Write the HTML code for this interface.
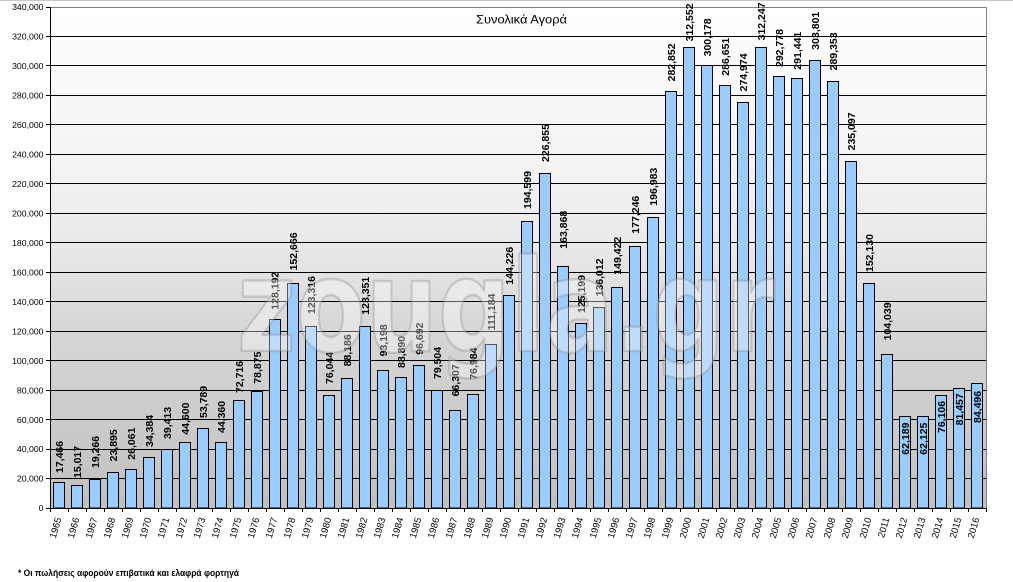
<!DOCTYPE html>
<html><head><meta charset="utf-8"><style>
html,body{margin:0;padding:0;background:#fff;}
svg{display:block;}
text{font-family:"Liberation Sans","DejaVu Sans",sans-serif;}
</style></head><body>
<svg width="1013" height="582" viewBox="0 0 1013 582" xmlns="http://www.w3.org/2000/svg">
<defs>
<linearGradient id="bg" x1="0" y1="7" x2="0" y2="508" gradientUnits="userSpaceOnUse">
<stop offset="0" stop-color="#ffffff"/>
<stop offset="0.3" stop-color="#f4f4f4"/>
<stop offset="0.45" stop-color="#ebebeb"/>
<stop offset="0.65" stop-color="#d6d6d6"/>
<stop offset="1" stop-color="#c0c0c0"/>
</linearGradient>
</defs>
<rect x="0" y="0" width="1013" height="582" fill="#fff"/>
<line x1="0" y1="0.5" x2="1013" y2="0.5" stroke="#c8c8c8" stroke-width="1"/>
<rect x="50" y="7" width="936" height="501" fill="url(#bg)"/>
<!-- gridlines -->
<g stroke="#000" stroke-width="1">
<line x1="50" x2="986" y1="478.5" y2="478.5"/>
<line x1="50" x2="986" y1="449.5" y2="449.5"/>
<line x1="50" x2="986" y1="419.5" y2="419.5"/>
<line x1="50" x2="986" y1="390.5" y2="390.5"/>
<line x1="50" x2="986" y1="360.5" y2="360.5"/>
<line x1="50" x2="986" y1="331.5" y2="331.5"/>
<line x1="50" x2="986" y1="301.5" y2="301.5"/>
<line x1="50" x2="986" y1="272.5" y2="272.5"/>
<line x1="50" x2="986" y1="242.5" y2="242.5"/>
<line x1="50" x2="986" y1="213.5" y2="213.5"/>
<line x1="50" x2="986" y1="183.5" y2="183.5"/>
<line x1="50" x2="986" y1="154.5" y2="154.5"/>
<line x1="50" x2="986" y1="124.5" y2="124.5"/>
<line x1="50" x2="986" y1="95.5" y2="95.5"/>
<line x1="50" x2="986" y1="65.5" y2="65.5"/>
<line x1="50" x2="986" y1="36.5" y2="36.5"/>
</g>
<g stroke="#808080" stroke-width="1">
<line x1="50" x2="987" y1="7.5" y2="7.5"/>
<line x1="986.5" x2="986.5" y1="7" y2="509"/>
</g>
<!-- bars -->
<g fill="#99ccff" stroke="#000" stroke-width="1">
<rect x="53.5" y="482.5" width="11" height="25.5"/>
<rect x="71.5" y="485.5" width="11" height="22.5"/>
<rect x="89.5" y="479.5" width="11" height="28.5"/>
<rect x="107.5" y="472.5" width="11" height="35.5"/>
<rect x="125.5" y="469.5" width="11" height="38.5"/>
<rect x="143.5" y="457.5" width="11" height="50.5"/>
<rect x="161.5" y="449.5" width="11" height="58.5"/>
<rect x="179.5" y="442.5" width="11" height="65.5"/>
<rect x="197.5" y="428.5" width="11" height="79.5"/>
<rect x="215.5" y="442.5" width="11" height="65.5"/>
<rect x="233.5" y="400.5" width="11" height="107.5"/>
<rect x="251.5" y="391.5" width="11" height="116.5"/>
<rect x="269.5" y="319.5" width="11" height="188.5"/>
<rect x="287.5" y="283.5" width="11" height="224.5"/>
<rect x="305.5" y="326.5" width="11" height="181.5"/>
<rect x="323.5" y="395.5" width="11" height="112.5"/>
<rect x="341.5" y="378.5" width="11" height="129.5"/>
<rect x="359.5" y="326.5" width="11" height="181.5"/>
<rect x="377.5" y="370.5" width="11" height="137.5"/>
<rect x="395.5" y="377.5" width="11" height="130.5"/>
<rect x="413.5" y="365.5" width="11" height="142.5"/>
<rect x="431.5" y="390.5" width="11" height="117.5"/>
<rect x="449.5" y="410.5" width="11" height="97.5"/>
<rect x="467.5" y="394.5" width="11" height="113.5"/>
<rect x="485.5" y="344.5" width="11" height="163.5"/>
<rect x="503.5" y="295.5" width="11" height="212.5"/>
<rect x="521.5" y="221.5" width="11" height="286.5"/>
<rect x="539.5" y="173.5" width="11" height="334.5"/>
<rect x="557.5" y="266.5" width="11" height="241.5"/>
<rect x="575.5" y="323.5" width="11" height="184.5"/>
<rect x="593.5" y="307.5" width="11" height="200.5"/>
<rect x="611.5" y="287.5" width="11" height="220.5"/>
<rect x="629.5" y="246.5" width="11" height="261.5"/>
<rect x="647.5" y="217.5" width="11" height="290.5"/>
<rect x="665.5" y="91.5" width="11" height="416.5"/>
<rect x="683.5" y="47.5" width="11" height="460.5"/>
<rect x="701.5" y="65.5" width="11" height="442.5"/>
<rect x="719.5" y="85.5" width="11" height="422.5"/>
<rect x="737.5" y="102.5" width="11" height="405.5"/>
<rect x="755.5" y="47.5" width="11" height="460.5"/>
<rect x="773.5" y="76.5" width="11" height="431.5"/>
<rect x="791.5" y="78.5" width="11" height="429.5"/>
<rect x="809.5" y="60.5" width="11" height="447.5"/>
<rect x="827.5" y="81.5" width="11" height="426.5"/>
<rect x="845.5" y="161.5" width="11" height="346.5"/>
<rect x="863.5" y="283.5" width="11" height="224.5"/>
<rect x="881.5" y="354.5" width="11" height="153.5"/>
<rect x="899.5" y="416.5" width="11" height="91.5"/>
<rect x="917.5" y="416.5" width="11" height="91.5"/>
<rect x="935.5" y="395.5" width="11" height="112.5"/>
<rect x="953.5" y="388.5" width="11" height="119.5"/>
<rect x="971.5" y="383.5" width="11" height="124.5"/>
</g>
<!-- axes -->
<g stroke="#000" stroke-width="1">
<line x1="50.5" x2="50.5" y1="7" y2="509"/>
<line x1="50" x2="987" y1="508.5" y2="508.5"/>
<line x1="46" x2="50" y1="508.5" y2="508.5"/>
<line x1="46" x2="50" y1="478.5" y2="478.5"/>
<line x1="46" x2="50" y1="449.5" y2="449.5"/>
<line x1="46" x2="50" y1="419.5" y2="419.5"/>
<line x1="46" x2="50" y1="390.5" y2="390.5"/>
<line x1="46" x2="50" y1="360.5" y2="360.5"/>
<line x1="46" x2="50" y1="331.5" y2="331.5"/>
<line x1="46" x2="50" y1="301.5" y2="301.5"/>
<line x1="46" x2="50" y1="272.5" y2="272.5"/>
<line x1="46" x2="50" y1="242.5" y2="242.5"/>
<line x1="46" x2="50" y1="213.5" y2="213.5"/>
<line x1="46" x2="50" y1="183.5" y2="183.5"/>
<line x1="46" x2="50" y1="154.5" y2="154.5"/>
<line x1="46" x2="50" y1="124.5" y2="124.5"/>
<line x1="46" x2="50" y1="95.5" y2="95.5"/>
<line x1="46" x2="50" y1="65.5" y2="65.5"/>
<line x1="46" x2="50" y1="36.5" y2="36.5"/>
<line x1="46" x2="50" y1="7.5" y2="7.5"/>
</g>
<g stroke="#000" stroke-width="1">
<line x1="50.5" x2="50.5" y1="508" y2="512"/><line x1="68.5" x2="68.5" y1="508" y2="512"/><line x1="86.5" x2="86.5" y1="508" y2="512"/><line x1="104.5" x2="104.5" y1="508" y2="512"/><line x1="122.5" x2="122.5" y1="508" y2="512"/><line x1="140.5" x2="140.5" y1="508" y2="512"/><line x1="158.5" x2="158.5" y1="508" y2="512"/><line x1="176.5" x2="176.5" y1="508" y2="512"/><line x1="194.5" x2="194.5" y1="508" y2="512"/><line x1="212.5" x2="212.5" y1="508" y2="512"/><line x1="230.5" x2="230.5" y1="508" y2="512"/><line x1="248.5" x2="248.5" y1="508" y2="512"/><line x1="266.5" x2="266.5" y1="508" y2="512"/><line x1="284.5" x2="284.5" y1="508" y2="512"/><line x1="302.5" x2="302.5" y1="508" y2="512"/><line x1="320.5" x2="320.5" y1="508" y2="512"/><line x1="338.5" x2="338.5" y1="508" y2="512"/><line x1="356.5" x2="356.5" y1="508" y2="512"/><line x1="374.5" x2="374.5" y1="508" y2="512"/><line x1="392.5" x2="392.5" y1="508" y2="512"/><line x1="410.5" x2="410.5" y1="508" y2="512"/><line x1="428.5" x2="428.5" y1="508" y2="512"/><line x1="446.5" x2="446.5" y1="508" y2="512"/><line x1="464.5" x2="464.5" y1="508" y2="512"/><line x1="482.5" x2="482.5" y1="508" y2="512"/><line x1="500.5" x2="500.5" y1="508" y2="512"/><line x1="518.5" x2="518.5" y1="508" y2="512"/><line x1="536.5" x2="536.5" y1="508" y2="512"/><line x1="554.5" x2="554.5" y1="508" y2="512"/><line x1="572.5" x2="572.5" y1="508" y2="512"/><line x1="590.5" x2="590.5" y1="508" y2="512"/><line x1="608.5" x2="608.5" y1="508" y2="512"/><line x1="626.5" x2="626.5" y1="508" y2="512"/><line x1="644.5" x2="644.5" y1="508" y2="512"/><line x1="662.5" x2="662.5" y1="508" y2="512"/><line x1="680.5" x2="680.5" y1="508" y2="512"/><line x1="698.5" x2="698.5" y1="508" y2="512"/><line x1="716.5" x2="716.5" y1="508" y2="512"/><line x1="734.5" x2="734.5" y1="508" y2="512"/><line x1="752.5" x2="752.5" y1="508" y2="512"/><line x1="770.5" x2="770.5" y1="508" y2="512"/><line x1="788.5" x2="788.5" y1="508" y2="512"/><line x1="806.5" x2="806.5" y1="508" y2="512"/><line x1="824.5" x2="824.5" y1="508" y2="512"/><line x1="842.5" x2="842.5" y1="508" y2="512"/><line x1="860.5" x2="860.5" y1="508" y2="512"/><line x1="878.5" x2="878.5" y1="508" y2="512"/><line x1="896.5" x2="896.5" y1="508" y2="512"/><line x1="914.5" x2="914.5" y1="508" y2="512"/><line x1="932.5" x2="932.5" y1="508" y2="512"/><line x1="950.5" x2="950.5" y1="508" y2="512"/><line x1="968.5" x2="968.5" y1="508" y2="512"/><line x1="986.5" x2="986.5" y1="508" y2="512"/>
</g>
<!-- y labels -->
<g font-size="8.7" text-anchor="end" fill="#000">
<text x="43.5" y="511.2">0</text>
<text x="43.5" y="481.7">20,000</text>
<text x="43.5" y="452.2">40,000</text>
<text x="43.5" y="422.8">60,000</text>
<text x="43.5" y="393.3">80,000</text>
<text x="43.5" y="363.8">100,000</text>
<text x="43.5" y="334.4">120,000</text>
<text x="43.5" y="304.9">140,000</text>
<text x="43.5" y="275.4">160,000</text>
<text x="43.5" y="246">180,000</text>
<text x="43.5" y="216.5">200,000</text>
<text x="43.5" y="187">220,000</text>
<text x="43.5" y="157.6">240,000</text>
<text x="43.5" y="128.1">260,000</text>
<text x="43.5" y="98.6">280,000</text>
<text x="43.5" y="69.2">300,000</text>
<text x="43.5" y="39.7">320,000</text>
<text x="43.5" y="10.2">340,000</text>
</g>
<!-- data labels -->
<g font-size="10.5" font-weight="bold" fill="#000">
<text transform="translate(62.8,473) rotate(-90)">17,466</text>
<text transform="translate(80.8,478) rotate(-90)">15,017</text>
<text transform="translate(98.8,468) rotate(-90)">19,266</text>
<text transform="translate(116.8,461.4) rotate(-90)">23,895</text>
<text transform="translate(134.8,459.7) rotate(-90)">26,061</text>
<text transform="translate(152.8,447) rotate(-90)">34,384</text>
<text transform="translate(170.8,439) rotate(-90)">39,413</text>
<text transform="translate(188.8,434.7) rotate(-90)">44,600</text>
<text transform="translate(206.8,418) rotate(-90)">53,789</text>
<text transform="translate(224.8,433) rotate(-90)">44,360</text>
<text transform="translate(242.8,393) rotate(-90)">72,716</text>
<text transform="translate(260.8,383.7) rotate(-90)">78,875</text>
<text transform="translate(278.3,309.7) rotate(-90)">128,192</text>
<text transform="translate(296.8,270.4) rotate(-90)">152,666</text>
<text transform="translate(314.8,314) rotate(-90)">123,316</text>
<text transform="translate(332.8,384) rotate(-90)">76,044</text>
<text transform="translate(350.8,366.4) rotate(-90)">88,186</text>
<text transform="translate(368.8,314.7) rotate(-90)">123,351</text>
<text transform="translate(386.8,356.4) rotate(-90)">93,198</text>
<text transform="translate(404.8,368) rotate(-90)">88,890</text>
<text transform="translate(422.8,354.7) rotate(-90)">96,692</text>
<text transform="translate(440.8,379) rotate(-90)">79,504</text>
<text transform="translate(458.8,396.4) rotate(-90)">66,307</text>
<text transform="translate(476.8,379.7) rotate(-90)">76,984</text>
<text transform="translate(494.8,330.4) rotate(-90)">111,184</text>
<text transform="translate(512.8,284.7) rotate(-90)">144,226</text>
<text transform="translate(530.8,209) rotate(-90)">194,599</text>
<text transform="translate(548.8,162) rotate(-90)">226,855</text>
<text transform="translate(566.8,248.7) rotate(-90)">163,868</text>
<text transform="translate(584.8,313) rotate(-90)">125,199</text>
<text transform="translate(602.8,296.4) rotate(-90)">136,012</text>
<text transform="translate(620.8,274.7) rotate(-90)">149,422</text>
<text transform="translate(638.8,233.7) rotate(-90)">177,246</text>
<text transform="translate(656.8,205.7) rotate(-90)">196,983</text>
<text transform="translate(674.8,81.4) rotate(-90)">282,852</text>
<text transform="translate(692.8,41.4) rotate(-90)">312,552</text>
<text transform="translate(710.8,56.4) rotate(-90)">300,178</text>
<text transform="translate(728.8,75.7) rotate(-90)">286,651</text>
<text transform="translate(746.8,91.4) rotate(-90)">274,974</text>
<text transform="translate(764.8,40.4) rotate(-90)">312,247</text>
<text transform="translate(782.8,67) rotate(-90)">292,778</text>
<text transform="translate(800.8,69.7) rotate(-90)">291,441</text>
<text transform="translate(818.8,49.7) rotate(-90)">303,801</text>
<text transform="translate(836.8,70.4) rotate(-90)">289,353</text>
<text transform="translate(854.8,150.4) rotate(-90)">235,097</text>
<text transform="translate(872.8,272) rotate(-90)">152,130</text>
<text transform="translate(890.8,340.4) rotate(-90)">104,039</text>
<text transform="translate(908.8,454.7) rotate(-90)">62,189</text>
<text transform="translate(926.8,454.7) rotate(-90)">62,125</text>
<text transform="translate(944.8,433) rotate(-90)">76,106</text>
<text transform="translate(962.8,425.4) rotate(-90)">81,457</text>
<text transform="translate(980.8,423) rotate(-90)">84,496</text>
</g>
<!-- x labels -->
<g font-size="9.5" text-anchor="end" fill="#000">
<text transform="translate(61.5,518.6) rotate(-74)">1965</text>
<text transform="translate(79.5,518.6) rotate(-74)">1966</text>
<text transform="translate(97.5,518.6) rotate(-74)">1967</text>
<text transform="translate(115.5,518.6) rotate(-74)">1968</text>
<text transform="translate(133.5,518.6) rotate(-74)">1969</text>
<text transform="translate(151.5,518.6) rotate(-74)">1970</text>
<text transform="translate(169.5,518.6) rotate(-74)">1971</text>
<text transform="translate(187.5,518.6) rotate(-74)">1972</text>
<text transform="translate(205.5,518.6) rotate(-74)">1973</text>
<text transform="translate(223.5,518.6) rotate(-74)">1974</text>
<text transform="translate(241.5,518.6) rotate(-74)">1975</text>
<text transform="translate(259.5,518.6) rotate(-74)">1976</text>
<text transform="translate(277.5,518.6) rotate(-74)">1977</text>
<text transform="translate(295.5,518.6) rotate(-74)">1978</text>
<text transform="translate(313.5,518.6) rotate(-74)">1979</text>
<text transform="translate(331.5,518.6) rotate(-74)">1980</text>
<text transform="translate(349.5,518.6) rotate(-74)">1981</text>
<text transform="translate(367.5,518.6) rotate(-74)">1982</text>
<text transform="translate(385.5,518.6) rotate(-74)">1983</text>
<text transform="translate(403.5,518.6) rotate(-74)">1984</text>
<text transform="translate(421.5,518.6) rotate(-74)">1985</text>
<text transform="translate(439.5,518.6) rotate(-74)">1986</text>
<text transform="translate(457.5,518.6) rotate(-74)">1987</text>
<text transform="translate(475.5,518.6) rotate(-74)">1988</text>
<text transform="translate(493.5,518.6) rotate(-74)">1989</text>
<text transform="translate(511.5,518.6) rotate(-74)">1990</text>
<text transform="translate(529.5,518.6) rotate(-74)">1991</text>
<text transform="translate(547.5,518.6) rotate(-74)">1992</text>
<text transform="translate(565.5,518.6) rotate(-74)">1993</text>
<text transform="translate(583.5,518.6) rotate(-74)">1994</text>
<text transform="translate(601.5,518.6) rotate(-74)">1995</text>
<text transform="translate(619.5,518.6) rotate(-74)">1996</text>
<text transform="translate(637.5,518.6) rotate(-74)">1997</text>
<text transform="translate(655.5,518.6) rotate(-74)">1998</text>
<text transform="translate(673.5,518.6) rotate(-74)">1999</text>
<text transform="translate(691.5,518.6) rotate(-74)">2000</text>
<text transform="translate(709.5,518.6) rotate(-74)">2001</text>
<text transform="translate(727.5,518.6) rotate(-74)">2002</text>
<text transform="translate(745.5,518.6) rotate(-74)">2003</text>
<text transform="translate(763.5,518.6) rotate(-74)">2004</text>
<text transform="translate(781.5,518.6) rotate(-74)">2005</text>
<text transform="translate(799.5,518.6) rotate(-74)">2006</text>
<text transform="translate(817.5,518.6) rotate(-74)">2007</text>
<text transform="translate(835.5,518.6) rotate(-74)">2008</text>
<text transform="translate(853.5,518.6) rotate(-74)">2009</text>
<text transform="translate(871.5,518.6) rotate(-74)">2010</text>
<text transform="translate(889.5,518.6) rotate(-74)">2011</text>
<text transform="translate(907.5,518.6) rotate(-74)">2012</text>
<text transform="translate(925.5,518.6) rotate(-74)">2013</text>
<text transform="translate(943.5,518.6) rotate(-74)">2014</text>
<text transform="translate(961.5,518.6) rotate(-74)">2015</text>
<text transform="translate(979.5,518.6) rotate(-74)">2016</text>
</g>
<!-- title -->
<text x="476" y="23.3" font-size="11.5" textLength="91" lengthAdjust="spacingAndGlyphs" fill="#000">Συνολικά Αγορά</text>
<!-- watermark -->
<text x="237" y="351" font-size="128" font-weight="bold" textLength="538" lengthAdjust="spacingAndGlyphs" fill="#ffffff" fill-opacity="0.34" stroke="#8a8a8a" stroke-opacity="0.35" stroke-width="2.5" stroke-linejoin="round" style='font-family:"DejaVu Sans","Liberation Sans",sans-serif'>zougla.gr</text>
<!-- footnote -->
<text x="18" y="576" font-size="9" font-weight="bold" textLength="221" lengthAdjust="spacingAndGlyphs" fill="#000">* Οι πωλήσεις αφορούν επιβατικά και ελαφρά φορτηγά</text>
</svg>
</body></html>
